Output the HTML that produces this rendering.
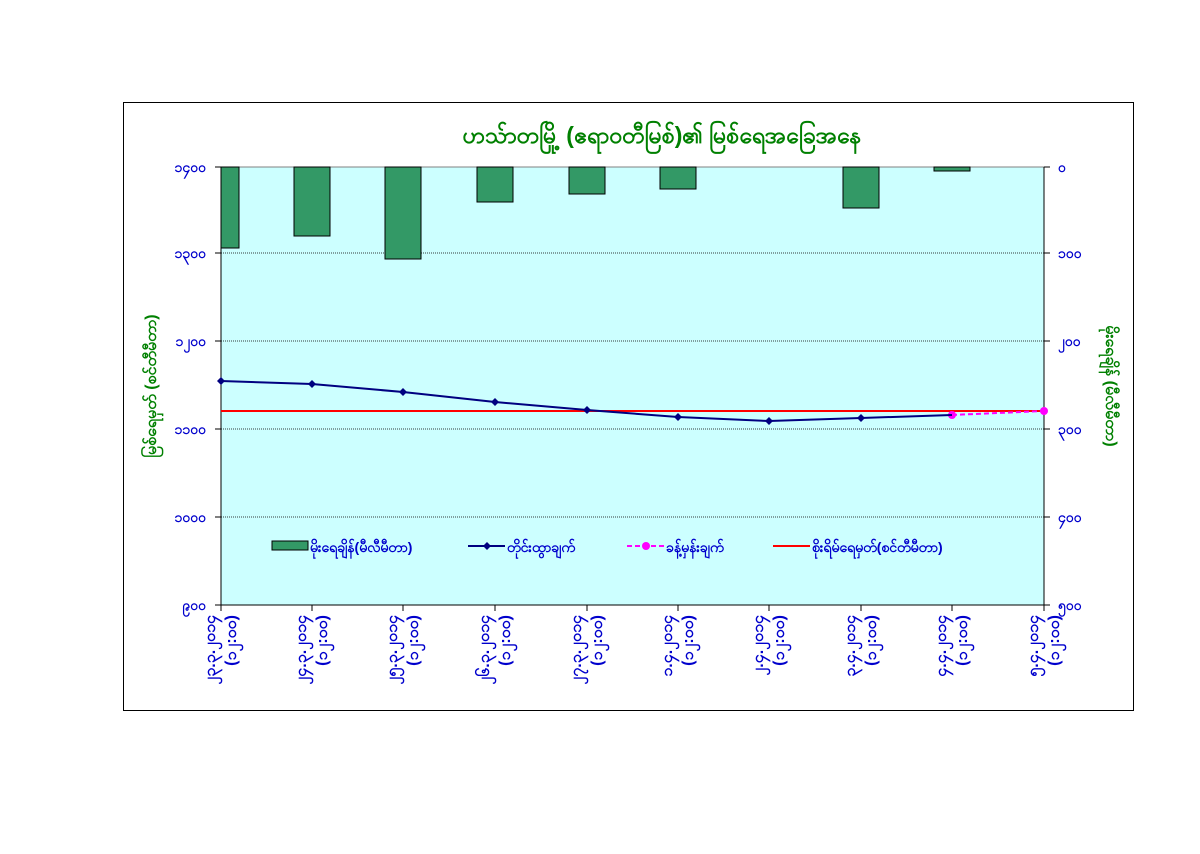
<!DOCTYPE html>
<html><head><meta charset="utf-8"><style>
body{margin:0;background:#fff;width:1200px;height:849px;overflow:hidden}
svg text{font-family:"Liberation Sans","Noto Sans CJK SC",sans-serif}
</style></head><body>
<svg width="1200" height="849" xmlns="http://www.w3.org/2000/svg">
<rect x="123.5" y="102.5" width="1010" height="608" fill="#fff" stroke="#000" stroke-width="1"/>
<rect x="221" y="167" width="823" height="438" fill="#ccffff"/>
<g stroke="#000" stroke-width="0.8" stroke-dasharray="1,1">
<line x1="221" y1="253" x2="1044" y2="253"/><line x1="221" y1="341" x2="1044" y2="341"/>
<line x1="221" y1="429" x2="1044" y2="429"/><line x1="221" y1="517" x2="1044" y2="517"/>
</g>
<line x1="221" y1="167" x2="1044" y2="167" stroke="#808080"/>
<g fill="#339966" stroke="#000" stroke-width="1">
<rect x="221" y="167" width="18" height="81"/>
<rect x="294" y="167" width="36" height="69"/>
<rect x="385" y="167" width="36" height="92"/>
<rect x="477" y="167" width="36" height="35"/>
<rect x="569" y="167" width="36" height="27"/>
<rect x="660" y="167" width="36" height="22"/>
<rect x="843" y="167" width="36" height="41"/>
<rect x="934" y="167" width="36" height="4"/>
</g>
<line x1="221" y1="167" x2="221" y2="605" stroke="#000"/>
<line x1="1044" y1="167" x2="1044" y2="605" stroke="#000"/>
<line x1="221" y1="605" x2="1044" y2="605" stroke="#000"/>
<g stroke="#000"><line x1="215" y1="167" x2="221" y2="167"/><line x1="215" y1="253" x2="221" y2="253"/><line x1="215" y1="341" x2="221" y2="341"/><line x1="215" y1="429" x2="221" y2="429"/><line x1="215" y1="517" x2="221" y2="517"/><line x1="215" y1="605" x2="221" y2="605"/>
<line x1="1044" y1="167" x2="1050" y2="167"/><line x1="1044" y1="253" x2="1050" y2="253"/><line x1="1044" y1="341" x2="1050" y2="341"/><line x1="1044" y1="429" x2="1050" y2="429"/><line x1="1044" y1="517" x2="1050" y2="517"/><line x1="1044" y1="605" x2="1050" y2="605"/>
<line x1="312" y1="605" x2="312" y2="611"/><line x1="403" y1="605" x2="403" y2="611"/><line x1="495" y1="605" x2="495" y2="611"/><line x1="587" y1="605" x2="587" y2="611"/><line x1="678" y1="605" x2="678" y2="611"/><line x1="769" y1="605" x2="769" y2="611"/><line x1="861" y1="605" x2="861" y2="611"/><line x1="952" y1="605" x2="952" y2="611"/><line x1="221" y1="605" x2="221" y2="611"/><line x1="1044" y1="605" x2="1044" y2="611"/></g>
<line x1="221" y1="411" x2="1044" y2="411" stroke="#ff0000" stroke-width="2"/>
<line x1="952" y1="415" x2="1044" y2="411" stroke="#ff00ff" stroke-width="2" stroke-dasharray="5,3"/>
<circle cx="952" cy="415" r="4" fill="#ff00ff"/><circle cx="1044" cy="411" r="4" fill="#ff00ff"/>
<polyline points="221,381 312,384 403,392 495,402 587,410 678,417 769,421 861,418 952,415" fill="none" stroke="#000080" stroke-width="2"/>
<g fill="#000080">
<path d="M221 377l4 4-4 4-4-4z"/><path d="M312 380l4 4-4 4-4-4z"/><path d="M403 388l4 4-4 4-4-4z"/><path d="M495 398l4 4-4 4-4-4z"/><path d="M587 406l4 4-4 4-4-4z"/><path d="M678 413l4 4-4 4-4-4z"/><path d="M769 417l4 4-4 4-4-4z"/><path d="M861 414l4 4-4 4-4-4z"/>
</g>
<text x="662" y="143" text-anchor="middle" fill="#008000" font-size="23" font-weight="bold">ဟသ်ာတမြို့ (ဧရာဝတီမြစ်)၏ မြစ်ရေအခြေအနေ</text>
<g fill="#0000cc" font-size="14" font-weight="bold" text-anchor="end">
<text x="206" y="172">၁၄၀၀</text><text x="206" y="258">၁၃၀၀</text><text x="206" y="346">၁၂၀၀</text><text x="206" y="434">၁၁၀၀</text><text x="206" y="522">၁၀၀၀</text><text x="206" y="610">၉၀၀</text>
</g>
<g fill="#0000cc" font-size="14" font-weight="bold">
<text x="1058" y="172">၀</text><text x="1058" y="258">၁၀၀</text><text x="1058" y="346">၂၀၀</text><text x="1058" y="434">၃၀၀</text><text x="1058" y="522">၄၀၀</text><text x="1058" y="610">၅၀၀</text>
</g>
<text transform="translate(156,386) rotate(-90)" text-anchor="middle" fill="#008000" font-size="16" font-weight="bold">မြစ်ရေမှတ် (စင်တီမီတာ)</text>
<text transform="translate(1106,386) rotate(90)" text-anchor="middle" fill="#008000" font-size="16" font-weight="bold">မိုးရေချိန် (မီလီမီတာ)</text>
<g fill="#0000cc" font-size="16" font-weight="bold" text-anchor="end">
<text transform="translate(215,615) rotate(-90)">၂၃.၃.၂၀၁၄</text><text transform="translate(236,615) rotate(-90)">(၁၂:၀၀)</text>
<text transform="translate(306,615) rotate(-90)">၂၄.၃.၂၀၁၄</text><text transform="translate(327,615) rotate(-90)">(၁၂:၀၀)</text>
<text transform="translate(397,615) rotate(-90)">၂၅.၃.၂၀၁၄</text><text transform="translate(418,615) rotate(-90)">(၁၂:၀၀)</text>
<text transform="translate(489,615) rotate(-90)">၂၆.၃.၂၀၁၄</text><text transform="translate(510,615) rotate(-90)">(၁၂:၀၀)</text>
<text transform="translate(581,615) rotate(-90)">၂၇.၃.၂၀၁၄</text><text transform="translate(602,615) rotate(-90)">(၁၂:၀၀)</text>
<text transform="translate(672,615) rotate(-90)">၁.၄.၂၀၁၄</text><text transform="translate(693,615) rotate(-90)">(၁၂:၀၀)</text>
<text transform="translate(763,615) rotate(-90)">၂.၄.၂၀၁၄</text><text transform="translate(784,615) rotate(-90)">(၁၂:၀၀)</text>
<text transform="translate(855,615) rotate(-90)">၃.၄.၂၀၁၄</text><text transform="translate(876,615) rotate(-90)">(၁၂:၀၀)</text>
<text transform="translate(946,615) rotate(-90)">၄.၄.၂၀၁၄</text><text transform="translate(967,615) rotate(-90)">(၁၂:၀၀)</text>
<text transform="translate(1038,615) rotate(-90)">၅.၄.၂၀၁၄</text><text transform="translate(1059,615) rotate(-90)">(၁၂:၀၀)</text>
</g>
<rect x="272" y="541" width="36" height="9" fill="#339966" stroke="#000"/>
<line x1="468" y1="546" x2="505" y2="546" stroke="#000080" stroke-width="2"/><path d="M487 542l4 4-4 4-4-4z" fill="#000080"/>
<line x1="627" y1="546" x2="664" y2="546" stroke="#ff00ff" stroke-width="2" stroke-dasharray="5,3"/><circle cx="646" cy="546" r="4" fill="#ff00ff"/>
<line x1="773" y1="546" x2="810" y2="546" stroke="#ff0000" stroke-width="2"/>
<g fill="#0000cc" font-size="14" font-weight="bold">
<text x="310" y="552">မိုးရေချိန်(မီလီမီတာ)</text><text x="507" y="552">တိုင်းထွာချက်</text><text x="666" y="552">ခန့်မှန်းချက်</text><text x="812" y="552">စိုးရိမ်ရေမှတ်(စင်တီမီတာ)</text>
</g>
</svg>
</body></html>
